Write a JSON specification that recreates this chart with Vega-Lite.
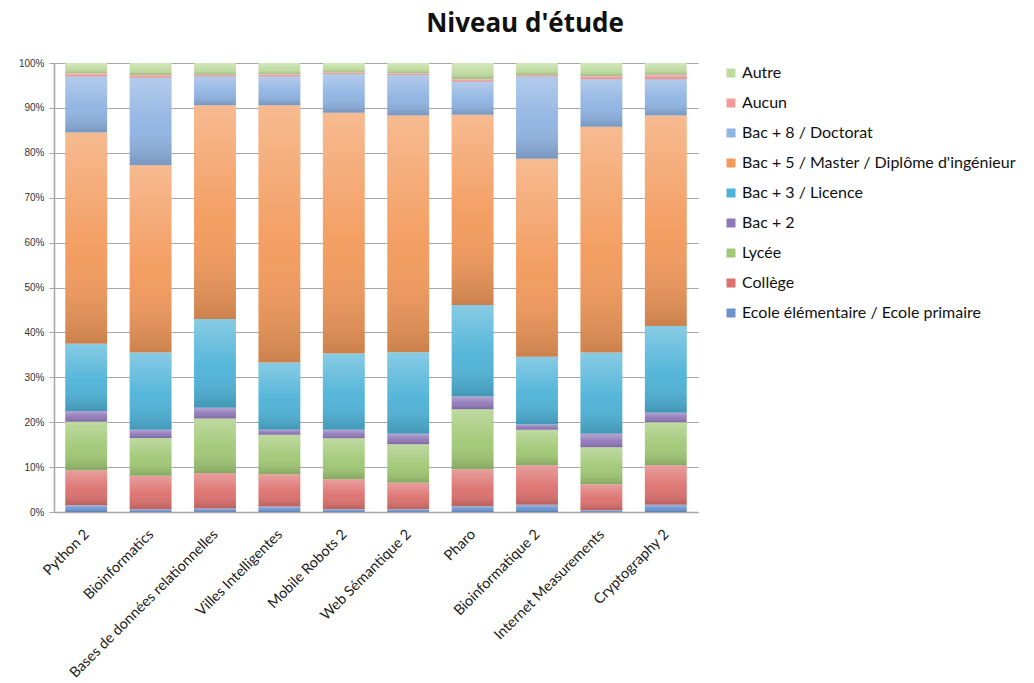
{
  "$schema": "https://vega.github.io/schema/vega-lite/v6.json",
  "width": 644,
  "height": 449,
  "autosize": {"type": "none"},
  "padding": {"left": 54, "top": 63, "right": 336, "bottom": 171},
  "background": "white",
  "title": {
    "text": "Niveau d'étude",
    "font": "Open Sans",
    "fontSize": 26,
    "fontWeight": "bold",
    "color": "#111111",
    "anchor": "middle",
    "dx": 149,
    "offset": 21
  },
  "config": {
    "view": {"stroke": null},
    "font": "Lato"
  },
  "data": {
    "values": [
      {"cours": "Python 2", "niveau": "Ecole élémentaire / Ecole primaire", "pct": 1.5},
      {"cours": "Python 2", "niveau": "Collège", "pct": 7.8},
      {"cours": "Python 2", "niveau": "Lycée", "pct": 10.8},
      {"cours": "Python 2", "niveau": "Bac + 2", "pct": 2.4},
      {"cours": "Python 2", "niveau": "Bac + 3 / Licence", "pct": 15.0},
      {"cours": "Python 2", "niveau": "Bac + 5 / Master / Diplôme d'ingénieur", "pct": 47.0},
      {"cours": "Python 2", "niveau": "Bac + 8 / Doctorat", "pct": 12.5},
      {"cours": "Python 2", "niveau": "Aucun", "pct": 0.7},
      {"cours": "Python 2", "niveau": "Autre", "pct": 2.3},

      {"cours": "Bioinformatics", "niveau": "Ecole élémentaire / Ecole primaire", "pct": 0.6},
      {"cours": "Bioinformatics", "niveau": "Collège", "pct": 7.5},
      {"cours": "Bioinformatics", "niveau": "Lycée", "pct": 8.4},
      {"cours": "Bioinformatics", "niveau": "Bac + 2", "pct": 1.8},
      {"cours": "Bioinformatics", "niveau": "Bac + 3 / Licence", "pct": 17.2},
      {"cours": "Bioinformatics", "niveau": "Bac + 5 / Master / Diplôme d'ingénieur", "pct": 41.7},
      {"cours": "Bioinformatics", "niveau": "Bac + 8 / Doctorat", "pct": 19.5},
      {"cours": "Bioinformatics", "niveau": "Aucun", "pct": 0.6},
      {"cours": "Bioinformatics", "niveau": "Autre", "pct": 2.7},

      {"cours": "Bases de données relationnelles", "niveau": "Ecole élémentaire / Ecole primaire", "pct": 0.8},
      {"cours": "Bases de données relationnelles", "niveau": "Collège", "pct": 7.9},
      {"cours": "Bases de données relationnelles", "niveau": "Lycée", "pct": 12.1},
      {"cours": "Bases de données relationnelles", "niveau": "Bac + 2", "pct": 2.4},
      {"cours": "Bases de données relationnelles", "niveau": "Bac + 3 / Licence", "pct": 19.8},
      {"cours": "Bases de données relationnelles", "niveau": "Bac + 5 / Master / Diplôme d'ingénieur", "pct": 47.6},
      {"cours": "Bases de données relationnelles", "niveau": "Bac + 8 / Doctorat", "pct": 6.4},
      {"cours": "Bases de données relationnelles", "niveau": "Aucun", "pct": 0.4},
      {"cours": "Bases de données relationnelles", "niveau": "Autre", "pct": 2.6},

      {"cours": "Villes Intelligentes", "niveau": "Ecole élémentaire / Ecole primaire", "pct": 1.2},
      {"cours": "Villes Intelligentes", "niveau": "Collège", "pct": 7.2},
      {"cours": "Villes Intelligentes", "niveau": "Lycée", "pct": 8.8},
      {"cours": "Villes Intelligentes", "niveau": "Bac + 2", "pct": 1.1},
      {"cours": "Villes Intelligentes", "niveau": "Bac + 3 / Licence", "pct": 15.0},
      {"cours": "Villes Intelligentes", "niveau": "Bac + 5 / Master / Diplôme d'ingénieur", "pct": 57.3},
      {"cours": "Villes Intelligentes", "niveau": "Bac + 8 / Doctorat", "pct": 6.4},
      {"cours": "Villes Intelligentes", "niveau": "Aucun", "pct": 0.5},
      {"cours": "Villes Intelligentes", "niveau": "Autre", "pct": 2.5},

      {"cours": "Mobile Robots 2", "niveau": "Ecole élémentaire / Ecole primaire", "pct": 0.6},
      {"cours": "Mobile Robots 2", "niveau": "Collège", "pct": 6.7},
      {"cours": "Mobile Robots 2", "niveau": "Lycée", "pct": 9.1},
      {"cours": "Mobile Robots 2", "niveau": "Bac + 2", "pct": 1.9},
      {"cours": "Mobile Robots 2", "niveau": "Bac + 3 / Licence", "pct": 17.0},
      {"cours": "Mobile Robots 2", "niveau": "Bac + 5 / Master / Diplôme d'ingénieur", "pct": 53.6},
      {"cours": "Mobile Robots 2", "niveau": "Bac + 8 / Doctorat", "pct": 8.6},
      {"cours": "Mobile Robots 2", "niveau": "Aucun", "pct": 0.4},
      {"cours": "Mobile Robots 2", "niveau": "Autre", "pct": 2.1},

      {"cours": "Web Sémantique 2", "niveau": "Ecole élémentaire / Ecole primaire", "pct": 0.6},
      {"cours": "Web Sémantique 2", "niveau": "Collège", "pct": 5.9},
      {"cours": "Web Sémantique 2", "niveau": "Lycée", "pct": 8.6},
      {"cours": "Web Sémantique 2", "niveau": "Bac + 2", "pct": 2.3},
      {"cours": "Web Sémantique 2", "niveau": "Bac + 3 / Licence", "pct": 18.2},
      {"cours": "Web Sémantique 2", "niveau": "Bac + 5 / Master / Diplôme d'ingénieur", "pct": 52.7},
      {"cours": "Web Sémantique 2", "niveau": "Bac + 8 / Doctorat", "pct": 9.0},
      {"cours": "Web Sémantique 2", "niveau": "Aucun", "pct": 0.4},
      {"cours": "Web Sémantique 2", "niveau": "Autre", "pct": 2.3},

      {"cours": "Pharo", "niveau": "Ecole élémentaire / Ecole primaire", "pct": 1.3},
      {"cours": "Pharo", "niveau": "Collège", "pct": 8.2},
      {"cours": "Pharo", "niveau": "Lycée", "pct": 13.4},
      {"cours": "Pharo", "niveau": "Bac + 2", "pct": 2.8},
      {"cours": "Pharo", "niveau": "Bac + 3 / Licence", "pct": 20.4},
      {"cours": "Pharo", "niveau": "Bac + 5 / Master / Diplôme d'ingénieur", "pct": 42.4},
      {"cours": "Pharo", "niveau": "Bac + 8 / Doctorat", "pct": 7.3},
      {"cours": "Pharo", "niveau": "Aucun", "pct": 0.6},
      {"cours": "Pharo", "niveau": "Autre", "pct": 3.6},

      {"cours": "Bioinformatique 2", "niveau": "Ecole élémentaire / Ecole primaire", "pct": 1.6},
      {"cours": "Bioinformatique 2", "niveau": "Collège", "pct": 8.8},
      {"cours": "Bioinformatique 2", "niveau": "Lycée", "pct": 7.9},
      {"cours": "Bioinformatique 2", "niveau": "Bac + 2", "pct": 1.2},
      {"cours": "Bioinformatique 2", "niveau": "Bac + 3 / Licence", "pct": 15.1},
      {"cours": "Bioinformatique 2", "niveau": "Bac + 5 / Master / Diplôme d'ingénieur", "pct": 44.1},
      {"cours": "Bioinformatique 2", "niveau": "Bac + 8 / Doctorat", "pct": 18.3},
      {"cours": "Bioinformatique 2", "niveau": "Aucun", "pct": 0.3},
      {"cours": "Bioinformatique 2", "niveau": "Autre", "pct": 2.7},

      {"cours": "Internet Measurements", "niveau": "Ecole élémentaire / Ecole primaire", "pct": 0.4},
      {"cours": "Internet Measurements", "niveau": "Collège", "pct": 5.8},
      {"cours": "Internet Measurements", "niveau": "Lycée", "pct": 8.2},
      {"cours": "Internet Measurements", "niveau": "Bac + 2", "pct": 3.0},
      {"cours": "Internet Measurements", "niveau": "Bac + 3 / Licence", "pct": 18.1},
      {"cours": "Internet Measurements", "niveau": "Bac + 5 / Master / Diplôme d'ingénieur", "pct": 50.3},
      {"cours": "Internet Measurements", "niveau": "Bac + 8 / Doctorat", "pct": 10.6},
      {"cours": "Internet Measurements", "niveau": "Aucun", "pct": 0.7},
      {"cours": "Internet Measurements", "niveau": "Autre", "pct": 2.9},

      {"cours": "Cryptography 2", "niveau": "Ecole élémentaire / Ecole primaire", "pct": 1.6},
      {"cours": "Cryptography 2", "niveau": "Collège", "pct": 8.8},
      {"cours": "Cryptography 2", "niveau": "Lycée", "pct": 9.6},
      {"cours": "Cryptography 2", "niveau": "Bac + 2", "pct": 2.1},
      {"cours": "Cryptography 2", "niveau": "Bac + 3 / Licence", "pct": 19.3},
      {"cours": "Cryptography 2", "niveau": "Bac + 5 / Master / Diplôme d'ingénieur", "pct": 46.9},
      {"cours": "Cryptography 2", "niveau": "Bac + 8 / Doctorat", "pct": 8.1},
      {"cours": "Cryptography 2", "niveau": "Aucun", "pct": 1.0},
      {"cours": "Cryptography 2", "niveau": "Autre", "pct": 2.6}
    ]
  },
  "transform": [
    {
      "calculate": "indexof([\"Ecole élémentaire / Ecole primaire\", \"Collège\", \"Lycée\", \"Bac + 2\", \"Bac + 3 / Licence\", \"Bac + 5 / Master / Diplôme d'ingénieur\", \"Bac + 8 / Doctorat\", \"Aucun\", \"Autre\"], datum.niveau)",
      "as": "rang"
    },
    {
      "stack": "pct",
      "groupby": ["cours"],
      "sort": [{"field": "rang", "order": "ascending"}],
      "offset": "normalize",
      "as": ["bas", "haut"]
    }
  ],
  "encoding": {
    "x": {
      "field": "cours",
      "type": "nominal",
      "sort": ["Python 2", "Bioinformatics", "Bases de données relationnelles", "Villes Intelligentes", "Mobile Robots 2", "Web Sémantique 2", "Pharo", "Bioinformatique 2", "Internet Measurements", "Cryptography 2"],
      "scale": {"paddingInner": 0.35, "paddingOuter": 0.175},
      "axis": {
        "title": null,
        "labelAngle": -45,
        "labelFont": "Lato",
        "labelFontSize": 14.5,
        "labelColor": "#222222",
        "labelPadding": 15,
        "labelOffset": -4,
        "labelLimit": 400,
        "ticks": false,
        "domainColor": "#a6a6a6",
        "domainWidth": 1.5,
        "grid": false
      }
    },
    "y": {
      "field": "bas",
      "type": "quantitative",
      "scale": {"domain": [0, 1], "nice": false},
      "axis": {
        "title": null,
        "values": [0, 0.1, 0.2, 0.3, 0.4, 0.5, 0.6, 0.7, 0.8, 0.9, 1],
        "format": ".0%",
        "labelFont": "Liberation Sans",
        "labelFontSize": 10,
        "labelColor": "#333333",
        "labelPadding": 5,
        "tickSize": 5,
        "tickColor": "#a6a6a6",
        "domainColor": "#a6a6a6",
        "domainWidth": 1.5,
        "gridColor": "#a6a6a6",
        "gridWidth": 1.2
      }
    },
    "y2": {"field": "haut"}
  },
  "layer": [
    {
      "mark": {"type": "bar"},
      "encoding": {
        "color": {
          "field": "niveau",
          "type": "nominal",
          "scale": {
            "domain": ["Autre", "Aucun", "Bac + 8 / Doctorat", "Bac + 5 / Master / Diplôme d'ingénieur", "Bac + 3 / Licence", "Bac + 2", "Lycée", "Collège", "Ecole élémentaire / Ecole primaire"],
            "range": ["#bfdc9f", "#ef9c99", "#8fb3e2", "#f39a5c", "#4fb3d8", "#8f78b8", "#a0c875", "#dc716e", "#6a93cf"]
          },
          "legend": {
            "title": null,
            "orient": "none",
            "legendX": 669,
            "legendY": 2,
            "padding": 0,
            "symbolType": "square",
            "symbolSize": 81,
            "symbolStrokeWidth": 0,
            "symbolOpacity": 1,
            "labelFont": "Lato",
            "labelFontSize": 16,
            "labelColor": "#111111",
            "labelOffset": 3,
            "labelLimit": 400,
            "rowPadding": 14
          }
        }
      }
    },
    {
      "mark": {
        "type": "bar",
        "color": {
          "gradient": "linear",
          "x1": 0, "y1": 0, "x2": 0, "y2": 1,
          "stops": [
            {"offset": 0, "color": "rgba(255,255,255,0.32)"},
            {"offset": 0.55, "color": "rgba(255,255,255,0.04)"},
            {"offset": 1, "color": "rgba(0,0,0,0.16)"}
          ]
        }
      }
    }
  ]
}
